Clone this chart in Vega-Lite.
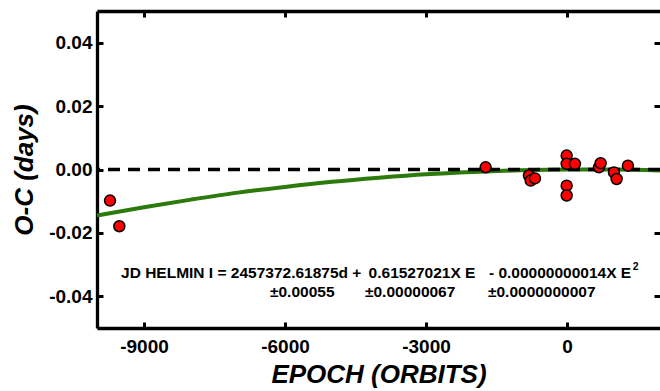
{
  "$schema": "https://vega.github.io/schema/vega-lite/v6.json",
  "width": 563,
  "height": 317,
  "autosize": {"type": "none"},
  "padding": {"left": 97, "top": 11, "right": 0, "bottom": 63},
  "background": "white",
  "config": {
    "view": {"stroke": null},
    "font": "Liberation Sans",
    "axis": {
      "grid": false,
      "domainColor": "black",
      "domainWidth": 3.3,
      "tickColor": "black",
      "tickWidth": 3,
      "tickSize": -6,
      "labelFont": "Liberation Sans",
      "labelFontWeight": "bold",
      "labelFontSize": 19,
      "labelColor": "black",
      "titleFont": "Liberation Sans",
      "titleFontWeight": "bold",
      "titleFontStyle": "italic",
      "titleFontSize": 26,
      "titleColor": "black"
    }
  },
  "datasets": {
    "fit": [
      {"E": -10000, "OC": -0.0145},
      {"E": -9000, "OC": -0.0119},
      {"E": -8000, "OC": -0.0095},
      {"E": -7000, "OC": -0.0073},
      {"E": -6000, "OC": -0.0055},
      {"E": -5000, "OC": -0.0039},
      {"E": -4000, "OC": -0.0026},
      {"E": -3000, "OC": -0.0015},
      {"E": -2000, "OC": -0.00075},
      {"E": -1000, "OC": -0.00024},
      {"E": 0, "OC": 0.0},
      {"E": 1000, "OC": -0.00003},
      {"E": 1980, "OC": -0.0003}
    ],
    "zero": [
      {"OC": 0}
    ],
    "obs": [
      {"E": -9723, "OC": -0.0098},
      {"E": -9525, "OC": -0.0179},
      {"E": -1730, "OC": 0.0007},
      {"E": -809, "OC": -0.0019},
      {"E": -772, "OC": -0.0035},
      {"E": -681, "OC": -0.0028},
      {"E": -6, "OC": 0.0044},
      {"E": -6, "OC": 0.0018},
      {"E": 170, "OC": 0.0018},
      {"E": -6, "OC": -0.0051},
      {"E": -6, "OC": -0.0082},
      {"E": 681, "OC": 0.0007},
      {"E": 717, "OC": 0.002},
      {"E": 1000, "OC": -0.0009},
      {"E": 1057, "OC": -0.003},
      {"E": 1298, "OC": 0.0012}
    ],
    "notes": [
      {"E": -9489, "OC": -0.0326, "label": "JD HELMIN I = 2457372.61875d +"},
      {"E": -4221, "OC": -0.0326, "label": "0.61527021X E"},
      {"E": -1660, "OC": -0.0326, "label": "- 0.00000000014X E"},
      {"E": -6319, "OC": -0.0387, "label": "±0.00055"},
      {"E": -4298, "OC": -0.0387, "label": "±0.00000067"},
      {"E": -1681, "OC": -0.0387, "label": "±0.0000000007"}
    ],
    "sup": [
      {"E": 1400, "OC": -0.0307, "label": "2"}
    ]
  },
  "layer": [
    {
      "data": {"name": "fit"},
      "mark": {"type": "line", "color": "#2b7a0b", "strokeWidth": 4, "interpolate": "monotone"},
      "encoding": {
        "x": {
          "field": "E", "type": "quantitative",
          "scale": {"domain": [-10000, 1980], "nice": false, "zero": false},
          "axis": {"orient": "bottom", "values": [-9000, -6000, -3000, 0], "labelExpr": "replace(format(datum.value, 'd'), '−', '-')", "labelPadding": 15, "title": "EPOCH (ORBITS)", "titlePadding": 5}
        },
        "y": {
          "field": "OC", "type": "quantitative",
          "scale": {"domain": [-0.05, 0.05], "nice": false, "zero": false},
          "axis": {"orient": "left", "values": [-0.04, -0.02, 0, 0.02, 0.04], "labelExpr": "replace(format(datum.value, '.2f'), '−', '-')", "labelPadding": 11, "title": "O-C (days)", "titlePadding": 11}
        }
      }
    },
    {
      "data": {"name": "zero"},
      "mark": {"type": "rule", "color": "black", "strokeWidth": 3.5, "strokeDash": [12, 8]},
      "encoding": {
        "y": {"field": "OC", "type": "quantitative", "axis": null}
      }
    },
    {
      "data": {"name": "obs"},
      "mark": {"type": "point", "shape": "circle", "filled": true, "color": "#ff0000", "stroke": "black", "strokeWidth": 1.5, "size": 120, "opacity": 1},
      "encoding": {
        "x": {
          "field": "E", "type": "quantitative",
          "axis": {"orient": "top", "values": [-9000, -6000, -3000, 0], "labels": false, "title": null}
        },
        "y": {
          "field": "OC", "type": "quantitative",
          "axis": {"orient": "right", "values": [-0.04, -0.02, 0, 0.02, 0.04], "labels": false, "domain": false, "title": null}
        }
      }
    },
    {
      "data": {"name": "notes"},
      "mark": {"type": "text", "align": "left", "baseline": "middle", "font": "Liberation Sans", "fontWeight": "bold", "fontSize": 15.5, "color": "black"},
      "encoding": {
        "x": {"field": "E", "type": "quantitative", "axis": null},
        "y": {"field": "OC", "type": "quantitative", "axis": null},
        "text": {"field": "label"}
      }
    },
    {
      "data": {"name": "sup"},
      "mark": {"type": "text", "align": "left", "baseline": "middle", "font": "Liberation Sans", "fontWeight": "bold", "fontSize": 10.5, "color": "black"},
      "encoding": {
        "x": {"field": "E", "type": "quantitative", "axis": null},
        "y": {"field": "OC", "type": "quantitative", "axis": null},
        "text": {"field": "label"}
      }
    }
  ],
  "resolve": {"axis": {"x": "independent", "y": "independent"}}
}
